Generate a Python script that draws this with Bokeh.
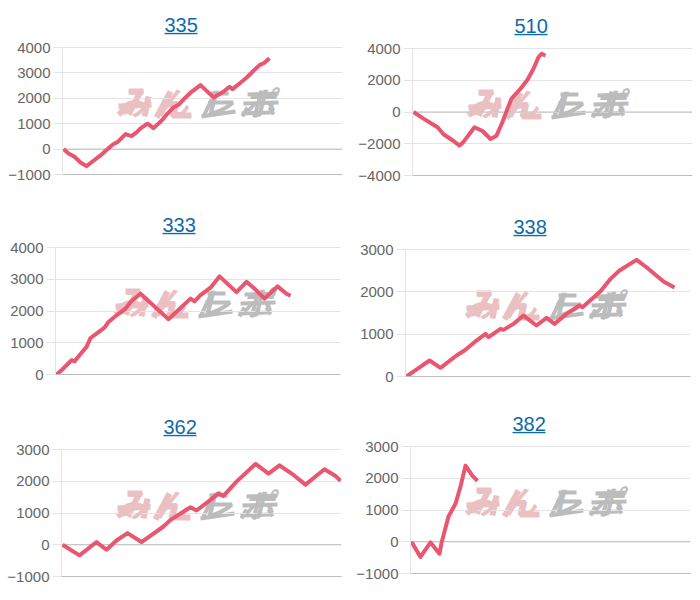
from bokeh.plotting import figure
from bokeh.layouts import column, row
from bokeh.models import Range1d, FixedTicker, Span, Label
from bokeh.embed import file_html
from bokeh.resources import INLINE

names = ["335", "510", "333", "338", "362", "382"]

x335 = [1,6,12,18,24,31,38,44,51,55,63,69,74,78,85,91,99,105,111,116,122,128,138,151,158,162,167,170,177,184,190,197,202,207]
y335 = [0,-170,-300,-525,-670,-460,-250,-40,200,275,590,510,655,815,1000,825,1115,1400,1640,1745,1995,2220,2520,2035,2190,2295,2455,2360,2585,2810,3045,3305,3400,3580]
x510 = [1,11,25,31,40,47,51,62,70,78,84,90,95,99,108,115,121,126,129,133]
y510 = [0,-420,-960,-1400,-1780,-2115,-1885,-960,-1195,-1700,-1490,-630,210,840,1465,2030,2720,3455,3665,3560]
x333 = [1,6,16,19,24,31,35,41,49,53,61,70,76,85,113,135,139,145,155,164,181,191,198,209,222,231,235]
y333 = [0,135,450,410,605,870,1150,1290,1475,1655,1865,2075,2315,2545,1740,2390,2305,2500,2735,3090,2595,2920,2735,2390,2775,2545,2480]
x338 = [1,13,24,35,51,59,71,80,83,95,98,108,118,131,141,149,161,174,177,195,205,214,231,241,258,269]
y338 = [0,197,378,205,496,614,850,1007,929,1125,1102,1243,1440,1204,1385,1243,1480,1676,1637,2015,2306,2503,2755,2581,2243,2101]
x362 = [1,18,35,45,55,66,80,102,109,129,135,149,157,162,175,194,207,218,232,244,263,274,279]
y362 = [0,-335,85,-157,135,366,85,575,785,1183,1078,1413,1623,1539,1989,2544,2240,2502,2198,1895,2376,2167,2010]
x382 = [1,10,20,29,31,36,38,45,50,55,62,67]
y382 = [0,-480,-20,-377,-42,560,796,1194,1738,2398,2073,1916]

xs = [x335, x510, x333, x338, x362, x382]
ys = [y335, y510, y333, y338, y362, y382]
ticks = [
    [-1000, 0, 1000, 2000, 3000, 4000],
    [-4000, -2000, 0, 2000, 4000],
    [0, 1000, 2000, 3000, 4000],
    [0, 1000, 2000, 3000],
    [-1000, 0, 1000, 2000, 3000],
    [-1000, 0, 1000, 2000, 3000],
]

# layout: canvas w, canvas h, border left, border top, frame w, title x offset, watermark x, watermark y
layout = [
    (350, 200, 62, 47, 280, 102, 53, 56),
    (345, 200, 62, 48, 280, 102, 53, 56),
    (350, 200, 55, 47, 285, 107, 57, 56),
    (345, 200, 55, 49, 285, 108, 58, 56),
    (350, 195, 61, 49, 280, 102, 53, 56),
    (345, 195, 60, 46, 280, 102, 53, 56),
]
FRAME_H = 127
HEAD = 15  # extra frame above the top gridline, holds the title's link underline
LINE = "#e9566f"
GRID = "#e4e4e4"
BASE = "#bdbdbd"
TITLE = "#0f6aa6"
TICK = "#666666"
FONT = "Liberation Sans"
WM_FONT = "Noto Sans CJK JP"
WM_PINK = "#ebc0c3"
WM_GRAY = "#bcbcbc"

# logo strokes, in px from the logo's bottom-left corner
LOGO_PINK = [
    [(13, 27), (28, 27)], [(25, 27), (13, 4)], [(3, 12), (36, 14)], [(3, 4), (12, 11)], [(33, 22), (29, 2)],
    [(55, 27), (41, 1)], [(48, 14), (60, 14), (57, 3), (76, 3)],
]
LOGO_GRAY = [
    [(100, 27), (88, 2)], [(86, 2), (120, 7)], [(95, 25), (113, 25)], [(93, 16), (117, 16)],
    [(132, 24), (163, 25)], [(128, 15), (163, 16)], [(126, 5), (155, 6)], [(146, 28), (139, 1)],
    [(132, 11), (127, 2)], [(154, 11), (158, 4)],
]

figs = []
for name, x, y, tk, lay in zip(names, xs, ys, ticks, layout):
    w, h, bl, bt, fw, tx, wx, wy = lay
    ylo, yhi = tk[0], tk[-1]
    per_px = (yhi - ylo) / FRAME_H
    p = figure(width=w, height=h, output_backend="svg", toolbar_location=None,
               x_range=Range1d(0, fw), y_range=Range1d(ylo, yhi + HEAD * per_px),
               min_border_left=bl, min_border_right=w - bl - fw,
               min_border_top=bt - HEAD, min_border_bottom=h - bt - FRAME_H)
    p.outline_line_color = None
    p.background_fill_color = "white"
    p.border_fill_color = "white"

    p.title.text = name
    p.title.align = "left"
    p.title.offset = tx
    p.title.text_font = FONT
    p.title.text_font_size = "20px"
    p.title.text_font_style = "normal"
    p.title.text_color = TITLE
    p.title.standoff = 2

    # the link underline of the title
    uy = yhi + 14 * per_px
    p.line([tx, tx + 33], [uy, uy], line_color=TITLE, line_width=1.5)

    p.xaxis.ticker = FixedTicker(ticks=[])
    p.xaxis.axis_line_color = BASE
    p.xaxis.major_tick_line_color = None
    p.xaxis.minor_tick_line_color = None
    p.xgrid.visible = False

    p.yaxis.ticker = FixedTicker(ticks=tk)
    p.yaxis.bounds = (ylo, yhi)
    p.yaxis.axis_line_color = GRID
    p.yaxis.major_tick_line_color = GRID
    p.yaxis.major_tick_in = 0
    p.yaxis.major_tick_out = 9
    p.yaxis.minor_tick_line_color = None
    p.yaxis.major_label_standoff = 3
    p.yaxis.major_label_text_font = FONT
    p.yaxis.major_label_text_font_size = "15px"
    p.yaxis.major_label_text_color = TICK
    p.yaxis.formatter.use_scientific = False
    p.ygrid.ticker = FixedTicker(ticks=tk)
    p.ygrid.grid_line_color = GRID
    p.ygrid.grid_line_width = 1

    p.add_layout(Span(location=0, dimension="width", line_color=BASE, line_width=1, level="underlay"))

    for strokes, col, lw in [(LOGO_PINK, WM_PINK, 6), (LOGO_GRAY, WM_GRAY, 4)]:
        mx = [[wx + a for a, b in s] for s in strokes]
        my = [[ylo + (wy + b) * per_px for a, b in s] for s in strokes]
        p.multi_line(mx, my, line_color=col, line_width=lw, level="underlay")

    for ch, dx, col in [("み", 2, WM_PINK), ("ん", 41, WM_PINK), ("レ", 86, WM_GRAY), ("ポ", 128, WM_GRAY)]:
        p.add_layout(Label(x=wx + dx, y=wy - 5, x_units="screen", y_units="screen", text=ch,
                           text_font=WM_FONT, text_font_size="32px", text_font_style="bold italic",
                           text_color=col, text_baseline="bottom", text_align="left", level="underlay"))

    p.line(x, y, line_color=LINE, line_width=4, line_join="round")
    figs.append(column(p))

page = column(row(figs[0], figs[1]), row(figs[2], figs[3]), row(figs[4], figs[5]))
open("out.html", "w").write(file_html(page, INLINE))
